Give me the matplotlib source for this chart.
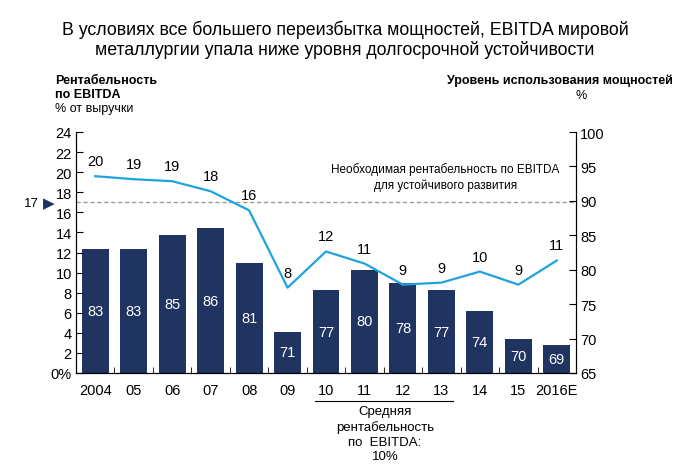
import numpy as np
import matplotlib.pyplot as plt

plt.rcParams['font.family'] = ['Liberation Sans', 'DejaVu Sans']

years = ['2004', '05', '06', '07', '08', '09', '10', '11', '12', '13', '14', '15', '2016E']
utilization = [83, 83, 85, 86, 81, 71, 77, 80, 78, 77, 74, 70, 69]
ebitda = [19.6, 19.3, 19.1, 18.1, 16.2, 8.5, 12.1, 10.9, 8.8, 9.0, 10.1, 8.8, 11.2]
ebitda_labels = ['20', '19', '19', '18', '16', '8', '12', '11', '9', '9', '10', '9', '11']
required = 17

navy = '#1f3461'
blue = '#1fa3dc'

fig = plt.figure(figsize=(6.97, 4.77), dpi=100)
ax = fig.add_axes([76/697, 1 - 374/477, 500/697, 241/477])
ax2 = ax.twinx()

x = np.arange(len(years))

# bars: capacity utilisation on right axis
ax2.bar(x, np.array(utilization) - 65, bottom=65, width=0.7, color=navy, zorder=2)
for xi, u in zip(x, utilization):
    ax2.text(xi, (65 + u) / 2, str(u), color='white', ha='center', va='center', fontsize=10.5, zorder=4)
ax2.set_ylim(65, 100)
ax2.set_yticks(range(65, 101, 5))

# line: EBITDA margin (left scale) mapped onto right axis
conv = lambda v: 65 + np.array(v) * 35 / 24
ax2.plot(x, conv(ebitda), color=blue, lw=1.6, zorder=3)
for xi, v, lab in zip(x, ebitda, ebitda_labels):
    ax2.text(xi, conv(v + 0.8), lab, ha='center', va='bottom', fontsize=10.5, zorder=4)
ax2.axhline(conv(required), color='#999999', ls='--', lw=1, dashes=(3, 2), zorder=1)

ax.set_ylim(0, 24)
ax.set_yticks(range(0, 25, 2))
ax.set_yticklabels(['0%'] + [str(v) for v in range(2, 25, 2)])
ax.set_xlim(-0.5, len(years) - 0.5)
ax.set_xticks(x)
ax.set_xticklabels(years)
ax.set_xticks(np.arange(-0.5, len(years)), minor=True)
ax.tick_params(axis='x', which='major', length=0, pad=7, labelsize=10.5)
ax.tick_params(axis='x', which='minor', direction='in', length=4)
ax.tick_params(axis='y', direction='in', length=5, labelsize=10.5, pad=3)
ax2.tick_params(axis='y', direction='in', length=5, labelsize=10.5, pad=3)

for a in (ax, ax2):
    a.spines['top'].set_visible(False)
ax.patch.set_visible(False)
ax.set_zorder(ax2.get_zorder() + 1)

ax2.text(9.1, conv(18.1), 'Необходимая рентабельность по EBITDA\nдля устойчивого развития',
         ha='center', va='bottom', fontsize=8.5, linespacing=1.35)

# marker for required level
fig.text(31/697, 1 - 204/477, '17', fontsize=9.5, ha='center', va='center')
fig.text(49/697, 1 - 204/477, '\u25B6', fontsize=11, ha='center', va='center', color=navy)

# bracket under 10-13
fig.add_artist(plt.Line2D([315/697, 453/697], [1 - 402/477, 1 - 402/477], color='black', lw=0.8))
fig.text(385/697, 1 - 406/477, 'Средняя\nрентабельность\nпо  EBITDA:\n10%', ha='center', va='top',
         fontsize=9.5, linespacing=1.3)

fig.text(345/697, 1 - 40/477, 'В условиях все большего переизбытка мощностей, EBITDA мировой\nметаллургии упала ниже уровня долгосрочной устойчивости',
         ha='center', va='center', fontsize=12.8, linespacing=1.15)

fig.text(55/697, 1 - 88/477, 'Рентабельность\nпо EBITDA', ha='left', va='center', fontsize=9,
         fontweight='bold', linespacing=1.3)
fig.text(55/697, 1 - 109/477, '% от выручки', ha='left', va='center', fontsize=9)
fig.text(673/697, 1 - 81/477, 'Уровень использования мощностей', ha='right', va='center',
         fontsize=9, fontweight='bold')
fig.text(581/697, 1 - 96/477, '%', ha='center', va='center', fontsize=9)

fig.savefig('out.png', dpi=100)
